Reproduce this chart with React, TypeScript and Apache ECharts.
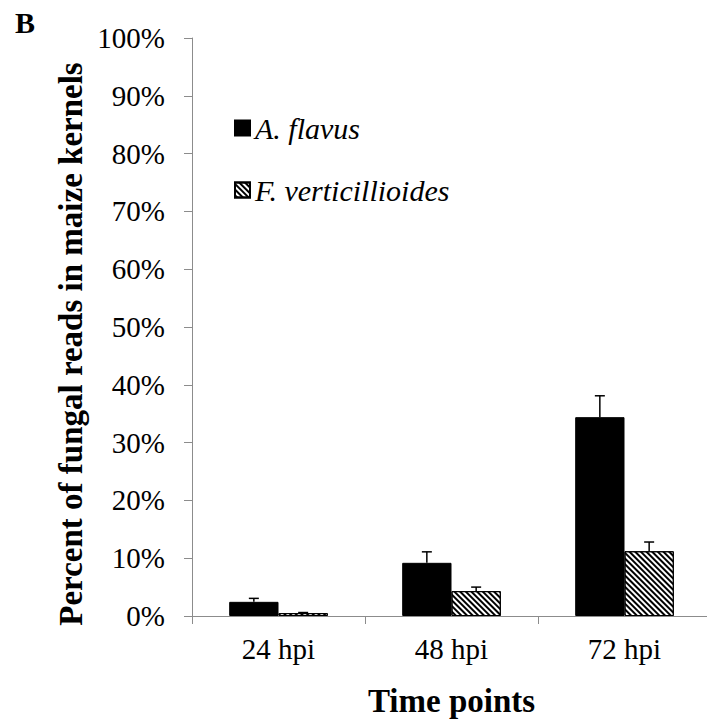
import React, { useEffect, useRef } from "react";
import * as echarts from "echarts";

const categories = ["24 hpi", "48 hpi", "72 hpi"];
const flavusValues = [2.45, 9.2, 34.4];
const flavusErrors = [0.6, 1.9, 3.7];
const fvValues = [0.5, 4.3, 11.2];
const fvErrors = [0.1, 0.7, 1.6];
const seriesNames = ["A. flavus", "F. verticillioides"];

const SERIF = "'Liberation Serif', 'Times New Roman', serif";
const GAP = 0.43;

function errorRender(offsetSign: number) {
  return (params: any, api: any) => {
    const idx = api.value(0);
    const v = api.value(1);
    const e = api.value(2);
    const band = api.size([1, 0])[0];
    const bw = (band * (1 - GAP)) / 2;
    const base = api.coord([idx, v]);
    const top = api.coord([idx, v + e]);
    const x = base[0] + (offsetSign * bw) / 2;
    const style = { stroke: "#000", lineWidth: 1.5 };
    return {
      type: "group",
      children: [
        { type: "line", shape: { x1: x, y1: base[1], x2: x, y2: top[1] }, style },
        { type: "line", shape: { x1: x - 5, y1: top[1], x2: x + 5, y2: top[1] }, style },
      ],
    };
  };
}

export default function App() {
  const ref = useRef<HTMLDivElement>(null);
  useEffect(() => {
    if (!ref.current) return;
    const chart = echarts.init(ref.current, undefined, { renderer: "svg" });
    const option: any = {
      animation: false,
      backgroundColor: "#fff",
      grid: {
        left: 192,
        top: 38,
        width: 519,
        height: 578,
        outerBoundsMode: "none",
        containLabel: false,
      },
      legend: {
        data: seriesNames,
        orient: "vertical",
        left: 234,
        top: 113,
        padding: 0,
        itemWidth: 15,
        itemHeight: 15,
        itemGap: 32,
        icon: "rect",
        textStyle: { fontFamily: SERIF, fontSize: 30, fontStyle: "italic", color: "#000" },
        selectedMode: false,
      },
      xAxis: {
        type: "category",
        data: categories,
        name: "Time points",
        nameLocation: "middle",
        nameGap: 68,
        nameTextStyle: { fontFamily: SERIF, fontSize: 33, fontWeight: "bold", color: "#000" },
        axisLine: { lineStyle: { color: "#8c8c8c", width: 1 } },
        axisTick: { show: true, length: 8, lineStyle: { color: "#8c8c8c" } },
        axisLabel: { fontFamily: SERIF, fontSize: 29, color: "#000", margin: 18 },
      },
      yAxis: {
        type: "value",
        min: 0,
        max: 100,
        interval: 10,
        axisLine: { show: true, lineStyle: { color: "#8c8c8c", width: 1 } },
        axisTick: { show: true, length: 8, lineStyle: { color: "#8c8c8c" } },
        splitLine: { show: false },
        axisLabel: { fontFamily: SERIF, fontSize: 29, color: "#000", margin: 27, formatter: "{value}%" },
      },
      graphic: [
        {
          type: "text",
          x: 71,
          y: 344,
          rotation: Math.PI / 2,
          style: {
            text: "Percent of fungal reads in maize kernels",
            font: `bold 33px ${SERIF}`,
            fill: "#000",
            textAlign: "center",
            textVerticalAlign: "middle",
          },
        },
        {
          type: "text",
          x: 15,
          y: 7,
          style: { text: "B", font: `bold 30px ${SERIF}`, fill: "#000" },
        },
      ],
      series: [
        {
          name: seriesNames[0],
          type: "bar",
          data: flavusValues,
          barGap: "0%",
          barCategoryGap: "43%",
          itemStyle: { color: "#000", borderColor: "#000", borderWidth: 1 },
        },
        {
          name: seriesNames[1],
          type: "bar",
          data: fvValues,
          barGap: "0%",
          barCategoryGap: "43%",
          itemStyle: {
            color: "#fff",
            borderColor: "#000",
            borderWidth: 1,
            decal: {
              symbol: "rect",
              symbolSize: 1,
              dashArrayX: [1, 0],
              dashArrayY: [1.2, 1.8],
              rotation: Math.PI / 4,
              color: "#000",
            },
          },
        },
        {
          name: "errA",
          type: "custom",
          renderItem: errorRender(-1),
          data: categories.map((_, i) => [i, flavusValues[i], flavusErrors[i]]),
          encode: { x: 0, y: 1 },
          z: 10,
        },
        {
          name: "errF",
          type: "custom",
          renderItem: errorRender(1),
          data: categories.map((_, i) => [i, fvValues[i], fvErrors[i]]),
          encode: { x: 0, y: 1 },
          z: 10,
        },
      ],
    };
    chart.setOption(option);
    return () => chart.dispose();
  }, []);
  return (
    <div
      ref={ref}
      style={{ position: "fixed", left: 0, top: 0, width: 707, height: 728, background: "#fff" }}
    />
  );
}
